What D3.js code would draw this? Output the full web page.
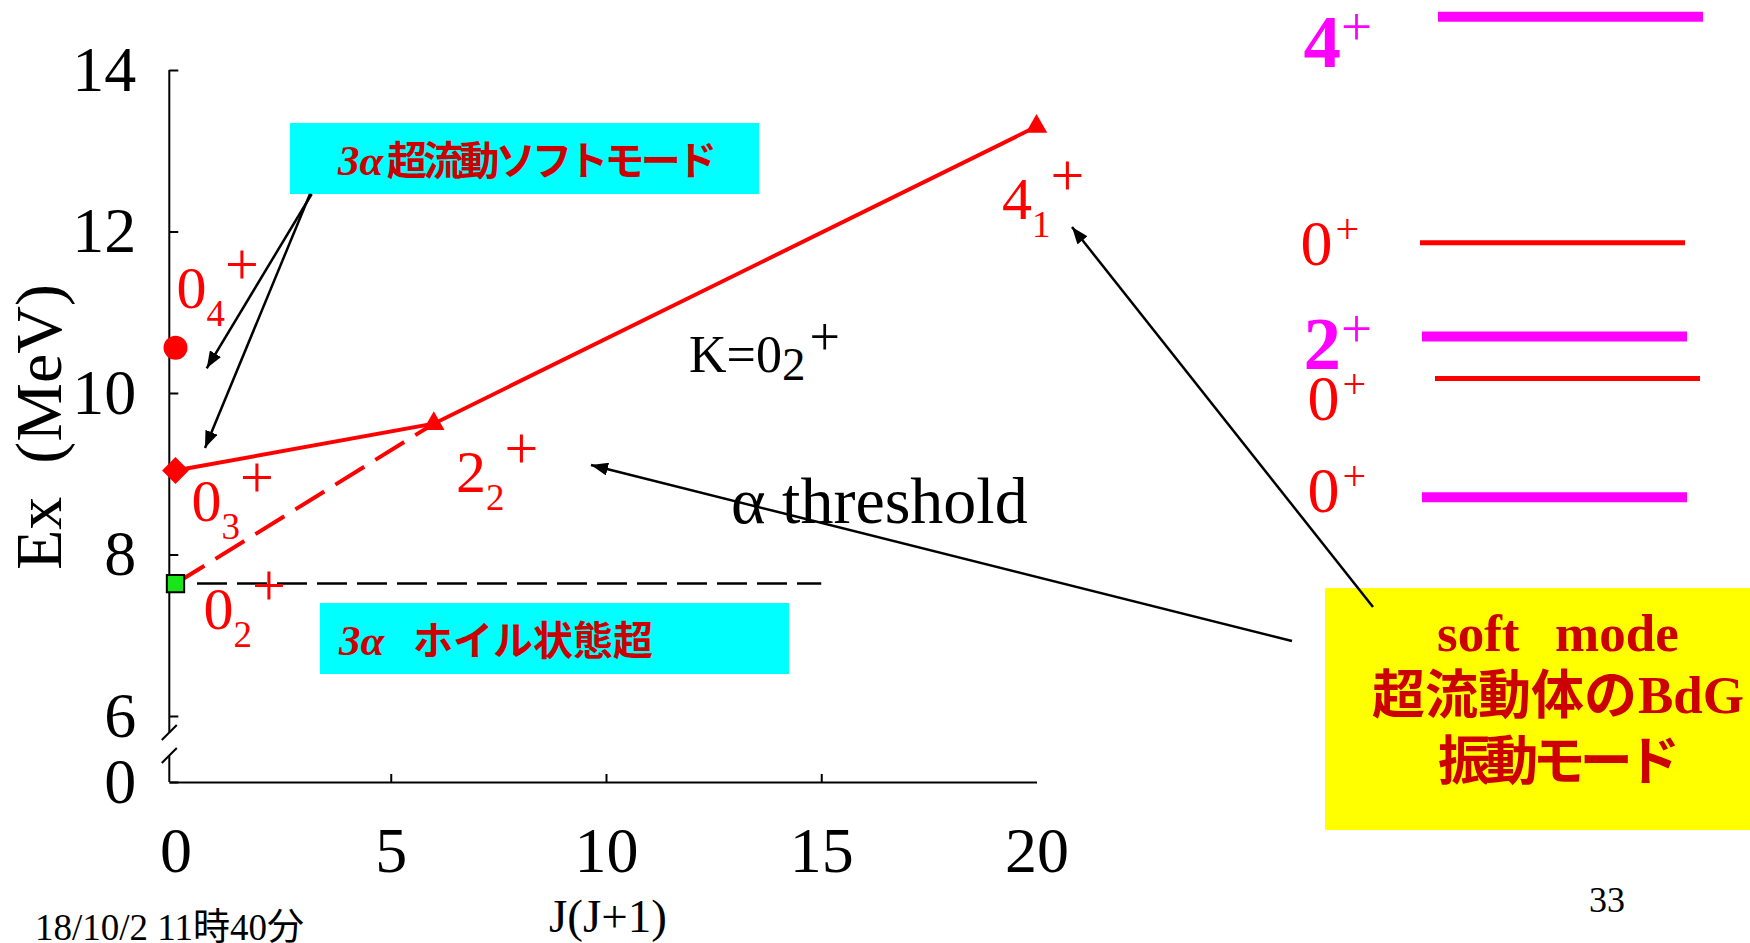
<!DOCTYPE html>
<html>
<head>
<meta charset="utf-8">
<script src="https://cdn.jsdelivr.net/npm/d3@7"></script>
<style>
  html, body { margin: 0; padding: 0; background: #fff; overflow: hidden; }
  svg { display: block; }
</style>
</head>
<body>
<svg id="chart" width="1750" height="943"></svg>
<script>
// ---- data ---------------------------------------------------------------
// K = 0_2+ band: J(J+1) vs excitation energy (MeV)
const bandJJ = [0, 6, 20];
const bandEx = [9.04, 9.62, 13.30];
const bandSpin = ["0", "2", "4"];
// Hoyle state (0_2+) linked to the 2_2+ member
const hoyleJJ = [0, 6];
const hoyleEx = [7.64, 9.62];
// 0_4+ state
const state04JJ = [0];
const state04Ex = [10.56];
// 3-alpha threshold (dashed) and its J(J+1) extent
const thresholdEx = 7.64;
const thresholdJJ = [0.5, 15.0];
// axis ticks
const xTickValues = [0, 5, 10, 15, 20];
const yTickValues = [0, 6, 8, 10, 12, 14];
// right-hand level scheme
const levelEx = [14.66, 11.86, 10.70, 10.18, 8.71];
const levelSpin = ["4", "0", "2", "0", "0"];

// ---- styling / layout ----------------------------------------------------
const SERIF = '"Liberation Serif","Times New Roman",serif';
const JP = '"Noto Sans CJK JP","Noto Sans CJK SC",sans-serif';
const RED = "#ff0000", MAG = "#ff00ff", DARKRED = "#cc0000";

const levelLineX = [1438, 1420, 1422, 1435, 1422];
const levelLineLen = 265;
const levelLineColor = [MAG, RED, MAG, RED, MAG];
const levelLineWidth = [10, 5, 10, 5, 10];
const levelLabelColor = [MAG, RED, MAG, RED, RED];
const levelLabelBold = [true, false, true, false, false];
const levelLabelX = [1303.5, 1300.5, 1303.5, 1307.5, 1307.5];
const levelLabelDy = [50.5, 22.4, 33, 42, 15];

const svg = d3.select("#chart");

// scales: y axis is broken between 0 and 6 MeV
const x = d3.scaleLinear().domain([-0.144, 20]).range([169.3, 1036.5]);
const y = d3.scaleLinear().domain([0, 6, 14]).range([782, 716, 70]);

// ---- annotation boxes ---------------------------------------------------
svg.append("rect").attr("x", 290).attr("y", 123).attr("width", 469).attr("height", 71).attr("fill", "#00ffff");
svg.append("rect").attr("x", 320).attr("y", 603).attr("width", 469).attr("height", 71).attr("fill", "#00ffff");
svg.append("rect").attr("x", 1325).attr("y", 588).attr("width", 425).attr("height", 242).attr("fill", "#ffff00");

// ---- axes ---------------------------------------------------------------
const gy = svg.append("g")
  .attr("transform", `translate(${x(-0.144)},0)`)
  .call(d3.axisLeft(y).tickValues(yTickValues).tickSizeInner(-9).tickSizeOuter(0)
    .tickPadding(33).tickFormat(d3.format("d")));
gy.select(".domain").remove();
gy.attr("font-family", SERIF).attr("font-size", 64);
gy.selectAll("text").attr("fill", "#000");
gy.selectAll(".tick line").attr("stroke", "#000").attr("stroke-width", 2);

// broken vertical axis line
const axX = x(-0.144);
const breakLo = 2.36, breakHi = 4.45;
svg.append("line").attr("x1", axX).attr("x2", axX).attr("y1", y(14)).attr("y2", y(breakHi))
  .attr("stroke", "#000").attr("stroke-width", 2);
svg.append("line").attr("x1", axX).attr("x2", axX).attr("y1", y(breakLo)).attr("y2", y(0))
  .attr("stroke", "#000").attr("stroke-width", 2);
[breakHi, breakLo].forEach(v => {
  const yc = y(v) - 0.5;
  svg.append("line").attr("x1", axX - 7.5).attr("y1", yc + 7.5).attr("x2", axX + 7.5).attr("y2", yc - 7.5)
    .attr("stroke", "#000").attr("stroke-width", 2);
});

const gx = svg.append("g")
  .attr("transform", `translate(0,${y(0)})`)
  .call(d3.axisBottom(x).tickValues(xTickValues).tickSizeInner(-8).tickSizeOuter(0)
    .tickPadding(44.6).tickFormat(d3.format("d")));
gx.attr("font-family", SERIF).attr("font-size", 64);
gx.selectAll("text").attr("fill", "#000");
gx.select(".domain").attr("stroke", "#000").attr("stroke-width", 2);
gx.selectAll(".tick line").attr("stroke", "#000").attr("stroke-width", 2)
  .attr("display", d => (d === 0 || d === 20) ? "none" : null);

// axis titles
svg.append("text")
  .attr("transform", "translate(61,427) rotate(-90)")
  .attr("text-anchor", "middle").attr("font-family", SERIF).attr("font-size", 66)
  .style("white-space", "pre").text("Ex  (MeV)");
svg.append("text")
  .attr("x", 608).attr("y", 932).attr("text-anchor", "middle")
  .attr("font-family", SERIF).attr("font-size", 47).text("J(J+1)");

// ---- threshold and lines --------------------------------------------------
svg.append("line")
  .attr("x1", x(thresholdJJ[0])).attr("x2", x(thresholdJJ[1]))
  .attr("y1", y(thresholdEx)).attr("y2", y(thresholdEx))
  .attr("stroke", "#000").attr("stroke-width", 2.5).attr("stroke-dasharray", "30,10");

const line = d3.line().x(d => x(d[0])).y(d => y(d[1]));
svg.append("path")
  .datum(hoyleJJ.map((j, i) => [j, hoyleEx[i]]))
  .attr("d", line).attr("fill", "none").attr("stroke", RED).attr("stroke-width", 4)
  .attr("stroke-dasharray", "34,13");
svg.append("path")
  .datum(bandJJ.map((j, i) => [j, bandEx[i]]))
  .attr("d", line).attr("fill", "none").attr("stroke", RED).attr("stroke-width", 4);

// ---- markers ----------------------------------------------------------------
svg.selectAll(".tri").data(bandJJ.slice(1).map((j, i) => [j, bandEx[i + 1]])).enter()
  .append("path").attr("class", "tri")
  .attr("transform", d => `translate(${x(d[0])},${y(d[1])})`)
  .attr("d", d3.symbol(d3.symbolTriangle, 200)).attr("fill", RED);
svg.append("path")
  .attr("transform", `translate(${x(bandJJ[0])},${y(bandEx[0])}) rotate(45)`)
  .attr("d", d3.symbol(d3.symbolSquare, 360)).attr("fill", RED);
svg.selectAll(".c04").data(state04JJ.map((j, i) => [j, state04Ex[i]])).enter()
  .append("path").attr("class", "c04")
  .attr("transform", d => `translate(${x(d[0])},${y(d[1])})`)
  .attr("d", d3.symbol(d3.symbolCircle, 452)).attr("fill", RED);
svg.append("path")
  .attr("transform", `translate(${x(hoyleJJ[0])},${y(hoyleEx[0])})`)
  .attr("d", d3.symbol(d3.symbolSquare, 300)).attr("fill", "#19e619")
  .attr("stroke", "#000").attr("stroke-width", 2);

// ---- state labels (J_n^+) ------------------------------------------------------
function stateLabel(x0, y0, main, sub, opt) {
  const o = Object.assign({ fill: RED, fs: 60, subFs: 37, subDy: 18, supFs: 60, supDy: -42, supDx: 0 }, opt || {});
  const t = svg.append("text").attr("x", x0).attr("y", y0)
    .attr("font-family", SERIF).attr("font-size", o.fs).attr("fill", o.fill);
  t.append("tspan").text(main);
  t.append("tspan").attr("font-size", o.subFs).attr("dy", o.subDy).text(sub);
  t.append("tspan").attr("font-size", o.supFs).attr("dx", o.supDx).attr("dy", o.supDy).text("+");
}
stateLabel(176.5, 307.5, "0", "4");
stateLabel(191.5, 521, "0", "3");
stateLabel(203.5, 629, "0", "2");
stateLabel(456, 492, bandSpin[1], "2");
stateLabel(1002, 219, bandSpin[2], "1");
stateLabel(689, 372, "K=0", "2", { fill: "#000", fs: 52, subFs: 47, subDy: 8, supFs: 54, supDy: -25, supDx: 4 });

svg.append("text").attr("x", 731).attr("y", 523)
  .attr("font-family", SERIF).attr("font-size", 66).text("α threshold");

// ---- box texts ---------------------------------------------------------------
svg.append("text").attr("x", 338).attr("y", 175)
  .attr("font-family", SERIF).attr("font-weight", "bold").attr("font-style", "italic")
  .attr("font-size", 43).attr("fill", DARKRED).text("3α");
svg.append("text").attr("x", 387).attr("y", 175)
  .attr("font-family", JP).attr("font-weight", "bold").attr("font-size", 40)
  .attr("textLength", 330).attr("lengthAdjust", "spacing")
  .attr("fill", DARKRED).text("超流動ソフトモード");

svg.append("text").attr("x", 339).attr("y", 655)
  .attr("font-family", SERIF).attr("font-weight", "bold").attr("font-style", "italic")
  .attr("font-size", 43).attr("fill", DARKRED).text("3α");
svg.append("text").attr("x", 413).attr("y", 655)
  .attr("font-family", JP).attr("font-weight", "bold").attr("font-size", 40)
  .attr("fill", DARKRED).text("ホイル状態超");

const yb = svg.append("g").attr("fill", DARKRED);
yb.append("text").attr("x", 1437).attr("y", 651)
  .attr("font-family", SERIF).attr("font-weight", "bold").attr("font-size", 53).text("soft");
yb.append("text").attr("x", 1555).attr("y", 651)
  .attr("font-family", SERIF).attr("font-weight", "bold").attr("font-size", 53).text("mode");
yb.append("text").attr("x", 1372).attr("y", 714)
  .attr("font-family", JP).attr("font-weight", "bold").attr("font-size", 53).text("超流動体の");
yb.append("text").attr("x", 1638).attr("y", 713)
  .attr("font-family", SERIF).attr("font-weight", "bold").attr("font-size", 53).text("BdG");
yb.append("text").attr("x", 1438).attr("y", 780)
  .attr("font-family", JP).attr("font-weight", "bold").attr("font-size", 53)
  .attr("textLength", 242).attr("lengthAdjust", "spacing").text("振動モード");

// ---- right-hand level scheme ----------------------------------------------------
levelEx.forEach((e, i) => {
  svg.append("line")
    .attr("x1", levelLineX[i]).attr("x2", levelLineX[i] + levelLineLen)
    .attr("y1", y(e)).attr("y2", y(e))
    .attr("stroke", levelLineColor[i]).attr("stroke-width", levelLineWidth[i]);
  const bold = levelLabelBold[i];
  const t = svg.append("text")
    .attr("x", levelLabelX[i]).attr("y", y(e) + levelLabelDy[i])
    .attr("font-family", SERIF).attr("fill", levelLabelColor[i])
    .attr("font-size", bold ? 75 : 64).attr("font-weight", bold ? "bold" : "normal");
  t.append("tspan").text(levelSpin[i]);
  t.append("tspan").attr("font-weight", "normal").attr("font-size", bold ? 55 : 42)
    .attr("dx", bold ? 0 : 3).attr("dy", -22).text("+");
});

// ---- arrows ----------------------------------------------------------------------
svg.append("defs").append("marker")
  .attr("id", "head").attr("viewBox", "0 0 17 13").attr("refX", 17).attr("refY", 6.5)
  .attr("markerUnits", "userSpaceOnUse").attr("markerWidth", 17).attr("markerHeight", 13)
  .attr("orient", "auto")
  .append("path").attr("d", "M0,0L17,6.5L0,13z").attr("fill", "#000");

const arrows = [
  [311.7, 194, 206.7, 368.3],
  [310, 194, 205, 448],
  [1373, 607, 1072, 227],
  [1292, 641, 591, 465]
];
svg.selectAll(".arrow").data(arrows).enter().append("line").attr("class", "arrow")
  .attr("x1", d => d[0]).attr("y1", d => d[1]).attr("x2", d => d[2]).attr("y2", d => d[3])
  .attr("stroke", "#000").attr("stroke-width", 2.5).attr("marker-end", "url(#head)");

// ---- footer -----------------------------------------------------------------------
svg.append("text").attr("x", 35).attr("y", 940)
  .attr("font-family", SERIF + "," + JP).attr("font-size", 37).text("18/10/2 11時40分");
svg.append("text").attr("x", 1607).attr("y", 912).attr("text-anchor", "middle")
  .attr("font-family", SERIF).attr("font-size", 36).text("33");
</script>
</body>
</html>
